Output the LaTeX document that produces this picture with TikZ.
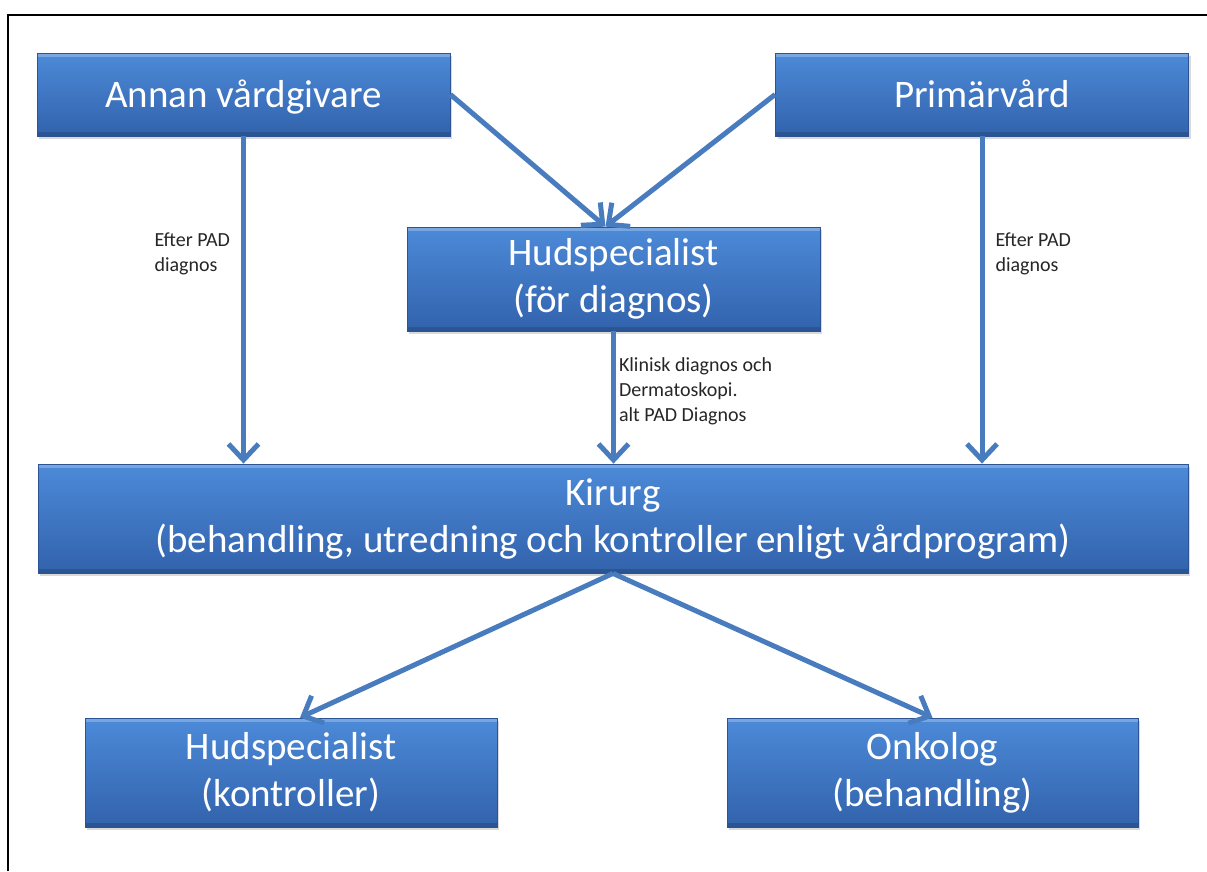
\documentclass[tikz,border=0pt]{standalone}
\usepackage{fontspec}
\setmainfont{Carlito}
\usetikzlibrary{arrows.meta,shadows}

\definecolor{boxtop}{RGB}{76,138,216}
\definecolor{boxbot}{RGB}{50,98,172}
\definecolor{boxline}{RGB}{44,84,148}
\definecolor{flowblue}{RGB}{72,124,190}

\tikzstyle{station}=[rectangle, top color=boxtop, bottom color=boxbot, draw=boxline, line width=0.8pt,
    text=white, align=center, inner sep=0pt, font=\fontsize{39}{47}\selectfont,
    drop shadow={shadow xshift=2pt, shadow yshift=-3pt, opacity=0.3},
    path picture={
        \fill[white, opacity=0.25] (path picture bounding box.north west) rectangle
            ([yshift=-4pt]path picture bounding box.north east);
        \fill[black, opacity=0.15] (path picture bounding box.south west) rectangle
            ([yshift=4pt]path picture bounding box.south east);}]
\tikzstyle{oneline} = [text height=30pt, text depth=5pt]
\tikzstyle{flow} = [draw=flowblue, line width=5pt, -{Straight Barb[length=16pt,width=30pt]}]
\tikzstyle{note} = [font=\fontsize{20}{25}\selectfont, align=left, text=black!85, inner sep=3pt]

\begin{document}
\begin{tikzpicture}[x=1pt, y=-1pt]
    \useasboundingbox (0,0) rectangle (1207,871);
    % frame round the chart
    \draw[line width=2.5pt] (8,871) -- (8,15) -- (1207,15);

    % First the boxes
    \node[station, oneline, minimum width=413pt, minimum height=83pt] (annan) at (243.5,94.5) {Annan vårdgivare};
    \node[station, oneline, minimum width=413pt, minimum height=83pt] (prim) at (982,94.5) {Primärvård};
    \node[station, minimum width=413pt, minimum height=104pt] (hudd) at (613.5,279) {Hudspecialist\\(för diagnos)};
    \node[station, minimum width=1150pt, minimum height=109pt] (kirurg) at (613,518.5)
        {Kirurg\\(behandling, utredning och kontroller enligt vårdprogram)};
    \node[station, minimum width=412pt, minimum height=109pt] (hk) at (291,772.5) {Hudspecialist\\(kontroller)};
    \node[station, minimum width=411pt, minimum height=109pt] (onk) at (932.5,772.5) {Onkolog\\(behandling)};

    % Referrals to the dermatologist
    \foreach \source/\side in {annan/east, prim/west}
        \path[flow] (\source.\side) -- ([xshift=-8pt]hudd.north);

    % Down to the surgeon
    \path[flow] (annan.south) -- node[note, pos=0.36, left, xshift=-8pt] {Efter PAD\\diagnos} (annan.south |- kirurg.north);
    \path[flow] (prim.south) -- node[note, pos=0.36, right, xshift=8pt] {Efter PAD\\diagnos} (prim.south |- kirurg.north);
    \path[flow] (hudd.south) -- node[note, pos=0.45, right] {Klinisk diagnos och\\Dermatoskopi.\\alt PAD Diagnos} (hudd.south |- kirurg.north);

    % After surgery
    \path[flow] (kirurg.south) -- ([xshift=9pt]hk.north);
    \path[flow] (kirurg.south) -- (onk.north);
\end{tikzpicture}
\end{document}
